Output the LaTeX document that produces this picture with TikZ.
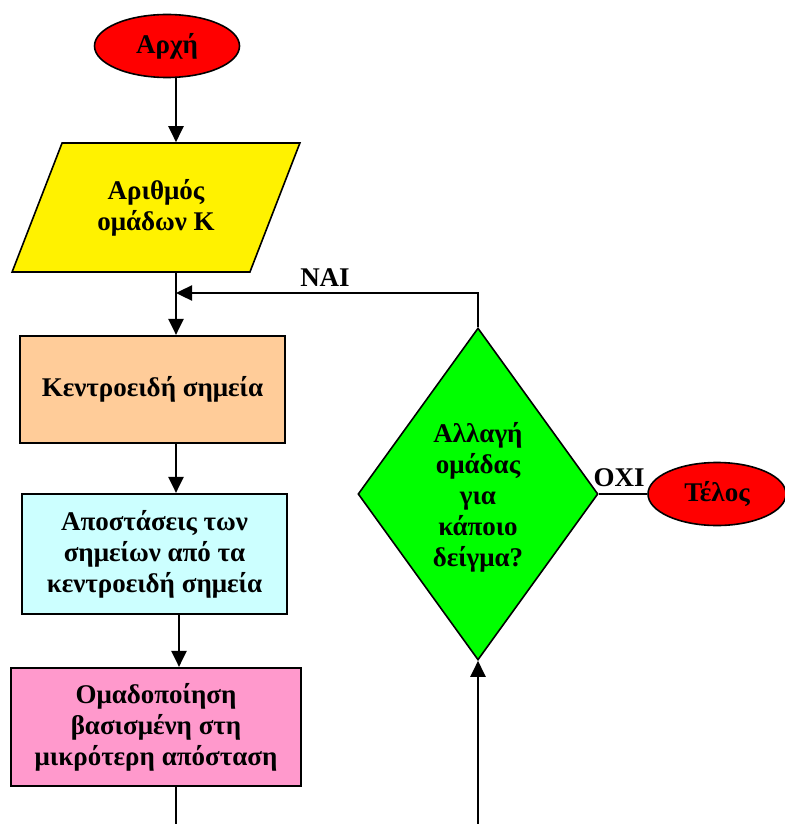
\documentclass[tikz,border=0pt]{standalone}
\usepackage{fontspec}
\setmainfont{Liberation Serif}
\usetikzlibrary{shapes.geometric,arrows.meta}
\begin{document}
\begin{tikzpicture}[x=1pt,y=-1pt,
  every node/.style={font=\bfseries\fontsize{27}{31}\selectfont, align=center},
  flowbox/.style={draw, line width=2.2pt, rectangle, inner sep=0pt},
  terminal/.style={draw, line width=1.6pt, ellipse, fill=red, minimum width=145pt, minimum height=63pt, inner sep=0pt},
  link/.style={line width=2.4pt},
  arrowlink/.style={link, -{Triangle[width=15pt,length=16pt]}},
  ]
\useasboundingbox (0,0) rectangle (784,824);

% main column
\node[terminal] (start) at (167,46) {Αρχή};
\node[draw, fill=yellow, line width=1.6pt, trapezium, trapezium left angle=61.2,
      trapezium right angle=118.8, trapezium stretches=true,
      minimum width=288pt, minimum height=129pt, inner sep=0pt] (para) at (156,207.5)
      {Αριθμός\\ομάδων Κ};
\node[flowbox, fill={rgb,255:red,255;green,204;blue,153}, minimum width=265pt, minimum height=107pt] (orange) at (152.5,389.5) {Κεντροειδή σημεία};
\node[flowbox, fill={rgb,255:red,204;green,255;blue,255}, minimum width=265pt, minimum height=120pt] (cyan) at (154.5,554) {Αποστάσεις των\\σημείων από τα\\κεντροειδή σημεία};
\node[flowbox, fill={rgb,255:red,255;green,153;blue,204}, minimum width=290pt, minimum height=118pt] (pink) at (156,727) {Ομαδοποίηση\\βασισμένη στη\\μικρότερη απόσταση};

% decision and end
\node[diamond, draw, fill=green, line width=1.6pt, minimum width=240pt, minimum height=332pt, inner sep=0pt] (dec) at (478,494) {};
\node (dectext) at (478,497) {Αλλαγή\\ομάδας\\για\\κάποιο\\δείγμα?};
\node[terminal, minimum width=138pt] (telos) at (717,494) {Τέλος};

% connectors
\coordinate (axis) at (176,0);
\coordinate (axisb) at (179,0);
\coordinate (merge) at (176,293);
\coordinate (downleft) at (176,824);
\coordinate (upright) at (478,824);

\draw[arrowlink] (start.south -| axis) -- (para.north -| axis);
\draw[arrowlink] (para.south -| axis) -- (orange.north -| axis);
\draw[arrowlink] (dec.north) |- (merge);
\draw[arrowlink] (orange.south -| axis) -- (cyan.north -| axis);
\draw[arrowlink] (cyan.south -| axisb) -- (pink.north -| axisb);
\draw[link] (pink.south -| axis) -- (downleft);
\draw[arrowlink] (upright) -- (dec.south);
\draw[link] (dec.east) -- (telos.west);

\node (yes) at (325,278) {ΝΑΙ};
\node (no) at (619,478) {ΟΧΙ};
\end{tikzpicture}
\end{document}
